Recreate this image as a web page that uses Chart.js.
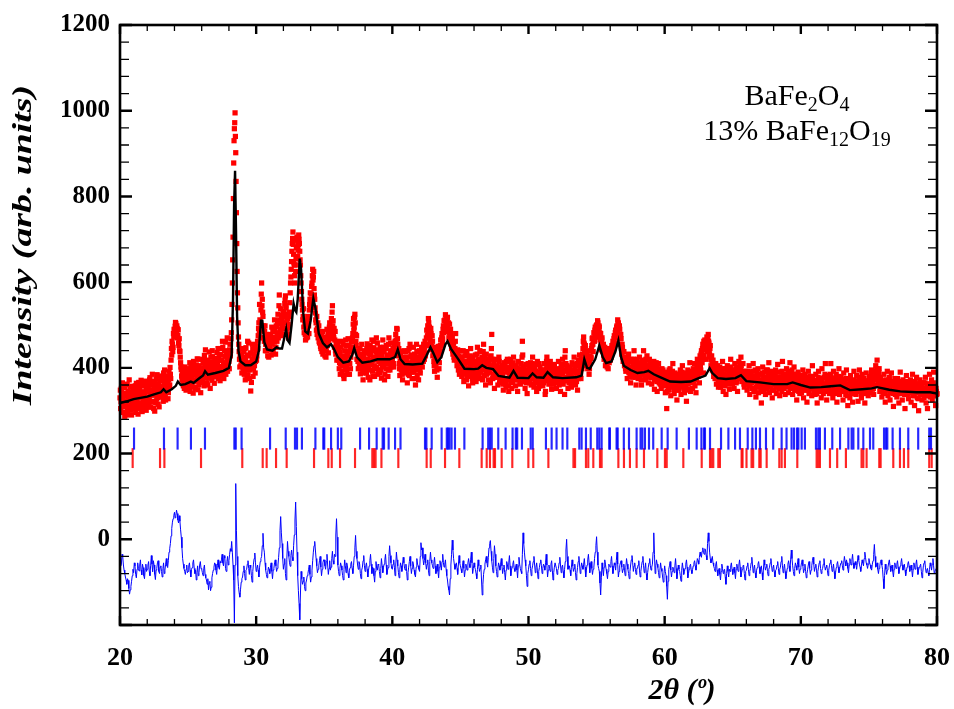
<!DOCTYPE html>
<html>
<head>
<meta charset="utf-8">
<title>BaFe2O4 Rietveld refinement</title>
<script src="https://cdn.jsdelivr.net/npm/chart.js@4.4.1/dist/chart.umd.min.js"></script>
<style>
  html, body { margin: 0; padding: 0; background: #ffffff; }
  #wrap { width: 954px; height: 709px; }
</style>
</head>
<body>
<div id="wrap"><canvas id="c" width="954" height="709"></canvas></div>
<script>
// Observed pattern: counts every 0.025 deg starting at 20 deg (2-theta), one row per degree
const angleStart = 20;
const obsStep = 0.025;
const observed = [
  330,348, 305,321, 352,296, 318,365, 296,333, 341,309, 322,354, 287,338, 360,315, 312,290, 335,362, 299,327, 346,310, 326,372, 308,343, 355,301, 317,334, 290,357, 338,312, 324,346,
  312,338, 349,305, 331,358, 296,327, 364,315, 322,349, 340,292, 305,366, 357,330, 318,351, 333,310, 371,342, 301,298, 344,361, 326,335, 359,318, 310,369, 337,324, 352,301, 319,350,
  345,328, 318,356, 362,311, 330,372, 377,340, 308,361, 349,320, 336,385, 368,347, 322,305, 355,338, 299,366, 341,318, 374,352, 327,384, 360,331, 315,363, 348,309, 381,345, 334,370,
  356,340, 332,378, 371,355, 348,322, 388,364, 340,395, 362,334, 325,369, 379,347, 353,381, 367,328, 342,372, 392,356, 360,401, 385,375, 418,445, 430,462, 455,438, 448,480, 472,490,
  488,475, 497,506, 503,492, 485,498, 492,470, 476,489, 458,452, 468,440, 438,425, 412,402, 396,381, 372,390, 401,365, 358,378, 384,352, 366,402, 395,370, 348,386, 379,360, 388,372,
  362,385, 398,350, 371,412, 345,378, 402,360, 380,395, 356,372, 391,341, 415,388, 368,404, 384,355, 352,398, 407,370, 377,421, 393,349, 420,382, 361,405, 388,366, 399,342, 374,395,
  395,372, 368,420, 412,391, 385,358, 429,405, 401,442, 376,388, 418,365, 392,415, 360,398, 405,376, 437,410, 383,352, 398,425, 414,393, 371,440, 426,381, 390,406, 408,364, 379,418,
  396,415, 422,388, 381,436, 410,402, 445,375, 392,428, 417,399, 370,445, 431,382, 403,418, 386,462, 448,398, 412,375, 395,440, 427,408, 460,385, 405,432, 421,470, 392,410, 438,422,
  415,398, 442,455, 428,440, 468,482, 512,548, 598,652, 705,795, 878,930, 958,972, 995,940, 902,835, 762,690, 625,575, 540,505, 472,455, 438,420, 402,430, 445,405, 418,432, 388,410,
  425,402, 392,418, 438,385, 410,445, 372,420, 447,395, 401,378, 430,462, 384,410, 458,428, 412,375, 395,435, 346,398, 366,412, 420,455, 444,380, 398,432, 427,405, 452,388, 415,440,
  440,418, 428,450, 462,445, 475,492, 505,480, 548,512, 470,505, 535,572, 598,545, 560,530, 520,498, 487,470, 462,485, 498,440, 455,478, 440,462, 472,445, 428,452, 458,425, 445,468,
  452,470, 478,442, 430,465, 495,455, 463,488, 441,472, 488,460, 512,485, 470,432, 448,498, 496,462, 475,508, 525,470, 482,545, 570,512, 502,488, 538,475, 490,522, 515,498, 478,532,
  505,520, 532,492, 550,558, 568,545, 540,525, 512,490, 478,515, 502,470, 495,520, 530,552, 575,598, 612,630, 648,672, 690,702, 717,688, 665,645, 640,615, 598,640, 625,655, 680,698,
  705,682, 660,675, 688,710, 700,690, 672,652, 640,615, 598,578, 560,548, 535,512, 520,538, 495,482, 510,498, 478,465, 502,490, 470,505, 488,472, 520,508, 498,480, 535,548, 560,575,
  545,558, 572,590, 598,615, 630,605, 612,625, 585,570, 560,540, 528,512, 505,488, 520,478, 492,505, 470,485, 498,462, 458,475, 482,450, 445,468, 476,438, 460,485, 432,455, 470,448,
  455,470, 428,448, 472,425, 440,465, 490,452, 462,480, 435,458, 478,495, 505,475, 468,488, 498,515, 482,530, 545,498, 510,478, 470,492, 448,465, 485,440, 432,458, 462,418, 440,455,
  445,425, 418,440, 398,412, 436,385, 410,448, 462,420, 392,408, 428,455, 405,382, 375,418, 440,395, 418,465, 452,405, 395,428, 430,385, 468,438, 412,452, 385,410, 445,398, 425,460,
  437,448, 462,470, 480,502, 515,488, 495,518, 525,505, 478,462, 452,475, 420,438, 440,415, 398,425, 432,405, 410,445, 386,420, 425,398, 455,432, 402,388, 372,428, 418,395, 440,412,
  412,390, 435,418, 388,445, 456,405, 420,378, 398,432, 442,415, 372,452, 430,395, 408,440, 465,418, 392,380, 425,462, 447,405, 380,425, 418,398, 438,470, 402,428, 458,385, 420,442,
  395,415, 432,388, 448,425, 410,395, 376,442, 428,405, 465,418, 402,448, 438,372, 385,412, 420,445, 452,398, 410,428, 430,380, 395,455, 470,412, 418,395, 440,458, 402,425, 435,405,
  418,432, 445,410, 402,448, 430,455, 462,440, 478,465, 440,492, 490,468, 455,435, 428,445, 410,398, 382,415, 428,405, 395,438, 418,385, 372,420, 405,392, 440,425, 388,402, 412,438,
  398,420, 425,392, 365,408, 440,385, 412,445, 382,425, 455,398, 402,428, 430,390, 375,412, 418,395, 448,405, 390,432, 422,375, 360,398, 410,455, 438,382, 395,415, 426,372, 405,440,
  412,395, 388,420, 430,405, 448,425, 402,432, 438,415, 455,440, 420,448, 462,428, 435,455, 470,488, 452,475, 498,480, 515,505, 478,495, 490,468, 458,492, 480,450, 442,475, 462,428,
  448,430, 415,405, 392,425, 438,410, 405,448, 430,395, 378,415, 422,440, 450,398, 412,428, 438,452, 465,440, 452,470, 480,458, 468,490, 498,482, 510,495, 485,512, 524,498, 502,515,
  495,508, 518,492, 488,505, 470,482, 502,475, 462,490, 480,455, 445,468, 470,440, 432,452, 458,425, 418,440, 445,462, 480,432, 425,418, 405,430, 442,410, 395,422, 428,385, 410,440,
  392,410, 425,398, 380,420, 412,392, 440,405, 368,385, 405,428, 388,415, 430,395, 372,438, 415,380, 395,412, 358,400, 420,385, 402,428, 445,392, 380,418, 410,375, 365,425, 398,405,
  412,395, 385,408, 430,378, 368,415, 405,432, 448,402, 392,418, 420,385, 375,440, 410,390, 438,412, 395,420, 425,372, 402,438, 455,405, 382,428, 418,395, 360,410, 432,385, 398,420,
  405,388, 372,410, 418,395, 390,425, 365,402, 428,445, 478,420, 398,375, 380,405, 412,385, 352,378, 395,418, 420,392, 378,405, 402,380, 360,398, 388,425, 415,365, 372,402, 395,378,
  368,392, 405,380, 385,362, 348,398, 412,372, 375,405, 398,362, 355,415, 390,372, 420,395, 372,358, 345,388, 402,375, 380,420, 365,398, 410,352, 388,368, 398,412, 425,385, 372,400,
  392,375, 358,390, 405,372, 380,398, 345,385, 415,395, 372,388, 398,365, 362,392, 410,378, 385,425, 462,430, 402,385, 368,402, 390,370, 352,395, 408,365, 378,392, 340,382, 395,410,
  372,390, 405,365, 385,398, 412,375, 360,385, 398,410, 425,392, 380,362, 355,385, 402,372, 368,408, 392,365, 345,390, 415,378, 375,352, 388,410, 358,385, 402,368, 380,395, 365,382,
  395,375, 358,392, 382,365, 410,390, 372,338, 345,372, 398,415, 425,395, 405,382, 388,370, 362,405, 392,378, 415,395, 375,362, 350,388, 398,372, 380,405, 362,390, 408,378, 372,395,
  385,368, 352,380, 398,365, 372,392, 415,388, 360,378, 390,365, 345,398, 405,372, 378,402, 420,385, 362,408, 395,370, 338,425, 440,392, 410,378, 370,405, 395,372, 352,398, 382,365,
  368,385, 402,392, 380,362, 355,378, 412,395, 390,365, 372,408, 425,392, 398,375, 360,388, 405,368, 385,410, 348,390, 418,375, 392,412, 430,395, 402,385, 375,420, 410,398, 420,432,
  445,462, 472,458, 455,440, 428,452, 440,418, 405,425, 432,410, 398,415, 420,402, 385,398, 412,428, 440,422, 425,445, 452,468, 470,455, 438,465, 482,470, 462,488, 495,472, 478,498,
  500,485, 488,510, 505,492, 472,498, 495,482, 465,478, 480,458, 442,465, 470,448, 438,452, 455,430, 420,438, 448,425, 405,418, 432,440, 415,402, 445,420, 398,425, 428,412, 440,422,
  418,432, 445,425, 430,452, 448,438, 462,455, 440,468, 475,452, 458,482, 488,475, 470,495, 498,485, 512,502, 505,492, 478,498, 490,470, 455,478, 468,445, 432,455, 448,425, 415,438,
  438,420, 405,415, 425,398, 392,410, 418,395, 375,402, 410,425, 432,390, 388,415, 402,380, 365,398, 420,388, 395,415, 378,402, 412,420, 440,395, 385,412, 405,378, 360,405, 398,420,
  410,392, 375,405, 398,382, 425,398, 382,412, 405,372, 360,395, 418,385, 395,415, 440,405, 388,398, 412,378, 372,420, 402,388, 428,405, 385,398, 365,382, 398,420, 410,392, 378,405,
  392,378, 362,395, 405,385, 378,402, 415,372, 350,385, 388,398, 372,412, 400,368, 345,390, 382,398, 410,375, 365,388, 395,362, 375,392, 352,380, 398,365, 370,395, 385,372, 358,382,
  375,360, 342,372, 390,368, 305,345, 362,378, 385,352, 348,395, 372,365, 398,362, 335,382, 380,370, 355,392, 410,375, 365,350, 340,372, 388,362, 352,385, 375,348, 325,378, 368,355,
  382,365, 348,372, 362,385, 395,358, 338,362, 375,390, 405,368, 355,380, 370,352, 342,375, 388,365, 360,348, 322,370, 378,385, 395,362, 350,378, 368,392, 412,375, 345,365, 372,385,
  385,370, 352,378, 398,382, 368,395, 410,358, 375,392, 342,372, 392,405, 420,398, 380,412, 405,388, 365,418, 428,402, 395,432, 440,425, 412,445, 455,420, 388,462, 430,448, 465,442,
  448,462, 420,455, 472,438, 445,470, 478,462, 458,440, 430,445, 452,425, 405,418, 428,402, 395,410, 418,392, 380,398, 402,388, 375,395, 410,382, 362,378, 392,405, 385,370, 355,390,
  378,392, 402,372, 355,380, 390,362, 368,395, 415,385, 345,372, 385,398, 372,358, 398,378, 338,368, 380,395, 405,382, 362,375, 392,365, 350,385, 375,402, 420,378, 365,390, 388,362,
  370,385, 395,372, 352,388, 410,378, 382,398, 365,380, 398,368, 345,375, 388,402, 415,392, 375,410, 402,395, 425,405, 390,378, 368,392, 410,375, 385,362, 355,380, 392,368, 372,390,
  380,362, 348,375, 392,370, 365,385, 405,358, 338,362, 372,385, 390,365, 352,372, 378,392, 410,368, 345,380, 368,352, 395,372, 332,355, 375,388, 360,378, 398,365, 342,385, 370,358,
  355,372, 385,348, 318,362, 372,388, 402,365, 345,378, 365,352, 390,375, 338,362, 378,395, 350,372, 395,360, 368,385, 412,355, 342,368, 375,392, 358,372, 388,348, 330,362, 370,382,
  382,362, 348,370, 365,385, 395,358, 340,368, 372,390, 408,375, 355,365, 378,352, 335,378, 362,375, 390,360, 345,392, 415,380, 370,362, 352,375, 385,360, 338,382, 372,355, 398,375,
  360,375, 388,365, 342,360, 375,392, 412,378, 352,365, 370,382, 395,358, 338,372, 365,385, 402,372, 348,365, 380,348, 355,370, 325,352, 372,385, 390,362, 345,375, 368,340, 352,372,
  378,360, 342,355, 365,382, 395,372, 330,350, 358,375, 385,362, 348,368, 372,348, 320,352, 362,378, 392,365, 340,358, 368,380, 352,365, 378,352, 335,372, 405,380, 358,365, 345,370,
  370,352, 338,362, 385,368, 352,340, 318,355, 365,378, 392,368, 345,360, 375,348, 358,375, 330,365, 398,372, 362,350, 340,362, 378,345, 352,385, 410,378, 345,360, 325,352, 368,380,
  355,372, 382,358, 340,365, 372,385, 410,375, 348,362, 365,345, 330,372, 392,368, 358,340, 375,362, 342,378, 385,355, 320,348, 368,372, 352,380, 398,362, 338,352, 362,375, 378,350,
  345,358, 372,350, 325,362, 388,345, 352,372, 365,348, 338,375, 395,362, 348,335, 312,355, 375,348, 358,362, 330,372, 382,358, 345,365, 368,340, 320,358, 355,372, 392,362, 340,355,
  365,350, 338,362, 382,355, 350,368, 322,345, 372,358, 395,362, 345,378, 358,340, 330,358, 385,370, 362,348, 340,362, 375,352, 318,345, 352,370, 388,362, 345,355, 368,350, 335,362,
  358,368, 380,355, 342,362, 368,385, 395,372, 350,365, 372,352, 338,378, 390,372, 360,392, 405,380, 375,398, 418,395, 385,372, 362,388, 398,370, 345,365, 378,352, 355,370, 332,358,
  368,352, 342,365, 385,360, 355,340, 320,348, 372,362, 348,370, 392,355, 335,352, 362,372, 378,350, 325,345, 355,368, 388,362, 342,358, 365,340, 310,348, 352,365, 375,355, 338,368,
  360,345, 332,358, 375,352, 348,362, 318,340, 368,355, 390,362, 340,348, 355,342, 325,358, 372,355, 345,365, 362,338, 305,345, 350,368, 382,352, 338,345, 358,340, 328,352, 365,342,
  342,355, 372,348, 320,345, 358,368, 385,352, 335,342, 350,335, 312,358, 368,350, 345,362, 378,348, 330,342, 355,328, 300,350, 348,362, 372,345, 338,355, 362,340, 325,348, 352,365,
  365,348, 330,342, 352,365, 378,352, 318,338, 345,362, 305,335, 362,348, 340,358, 385,345, 332,362, 355,340, 372,350, 325,345, 348,365, 390,355, 335,348, 358,335, 312,352, 345,338,
  340
];

// Difference curve (drawn with its own offset) every 0.05 deg from 20 deg, one row per degree
const diffStep = 0.05;
const difference = [
  -45,-62, -58,-35, -40,-60, -72,-80, -88,-95, -105,-92, -96,-115, -128,-118, -110,-98, -85,-70,
  -78,-55, -62,-82, -90,-70, -55,-68, -74,-60, -48,-72, -83,-58, -66,-85, -92,-70, -58,-75,
  -70,-60, -52,-75, -85,-62, -38,-58, -76,-50, -60,-82, -94,-72, -68,-55, -50,-75, -80,-65,
  -62,-75, -88,-68, -55,-80, -72,-58, -45,-62, -66,-50, -30,-22, -10,8, 25,40, 48,55,
  63,50, 55,68, 60,45, 38,55, 42,22, 5,-20, -45,-58, -68,-75, -82,-70, -60,-78,
  -75,-62, -55,-72, -88,-70, -66,-55, -48,-68, -80,-72, -95,-78, -62,-85, -78,-60, -52,-68,
  -70,-78, -85,-68, -60,-82, -90,-95, -105,-92, -118,-102, -98,-120, -112,-90, -80,-72, -65,-55,
  -58,-72, -82,-62, -48,-65, -70,-52, -55,-48, -35,-55, -62,-38, -44,-68, -75,-52, -40,-60,
  -50,-35, -22,-28, -5,-30, -60,-95, -195,-60, 130,20, -40,-85, -110,-125, -135,-118, -100,-92,
  -88,-75, -62,-80, -95,-72, -70,-58, -50,-68, -82,-60, -66,-85, -100,-75, -58,-45, -32,-55,
  -75,-68, -60,-72, -88,-65, -52,-45, -40,-15, 14,-20, -30,-55, -72,-82, -90,-78, -65,-70,
  -80,-65, -55,-75, -92,-72, -68,-55, -48,-62, -75,-68, -60,-42, -20,20, 53,15, -10,-45,
  -70,-58, -45,-80, -95,-48, -5,-28, -40,-55, -63,-38, -25,-42, -50,-15, 10,45, 87,30,
  -30,-85, -120,-150, -188,-130, -75,-92, -105,-98, -88,-110, -120,-102, -95,-85, -80,-70, -60,-82,
  -100,-88, -72,-50, -30,-15, -5,-25, -45,-62, -78,-70, -62,-50, -40,-65, -85,-70, -55,-48,
  -48,-62, -70,-52, -35,-60, -82,-68, -50,-72, -65,-45, -28,-50, -58,-35, -40,10, 48,5,
  -60,-75, -85,-68, -55,-62, -72,-85, -95,-70, -48,-62, -78,-55, -62,-80, -90,-72, -66,-58,
  -52,-68, -80,-62, -40,-20, 9,-28, -45,-60, -70,-52, -58,-80, -92,-72, -65,-50, -38,-62,
  -75,-62, -55,-70, -88,-72, -62,-50, -35,-58, -80,-65, -68,-85, -100,-75, -52,-68, -72,-58,
  -60,-75, -90,-68, -45,-62, -78,-65, -58,-48, -35,-60, -82,-72, -66,-40, -15,-38, -55,-68,
  -70,-58, -48,-65, -85,-60, -30,-48, -62,-78, -90,-70, -55,-62, -75,-58, -42,-55, -68,-72,
  -58,-75, -95,-78, -65,-52, -40,-62, -80,-68, -52,-60, -72,-82, -88,-65, -45,-58, -62,-70,
  -75,-40, -8,-25, -20,-45, -60,-50, -35,-55, -70,-58, -48,-72, -85,-52, -30,-48, -55,-62,
  -68,-55, -42,-62, -80,-70, -58,-75, -90,-65, -50,-60, -72,-52, -35,-55, -65,-58, -48,-70,
  -85,-95, -110,-118, -130,-92, -60,-35, -2,-25, -45,-58, -70,-62, -55,-68, -82,-60, -38,-55,
  -62,-70, -78,-62, -50,-68, -88,-72, -58,-65, -72,-55, -45,-58, -66,-48, -30,-55, -80,-68,
  -55,-65, -70,-80, -92,-70, -48,-62, -75,-68, -60,-95, -130,-105, -82,-70, -58,-48, -40,-55,
  -65,-42, -20,-10, -3,-28, -50,-65, -78,-45, -15,-35, -62,-75, -88,-70, -55,-62, -72,-58,
  -45,-62, -80,-68, -60,-78, -95,-72, -52,-60, -70,-55, -38,-62, -85,-72, -65,-58, -50,-68,
  -75,-65, -58,-72, -90,-62, -42,-58, -68,-75, -80,-35, 15,-10, -30,-48, -62,-85, -110,-80,
  -70,-58, -50,-68, -85,-70, -62,-52, -40,-60, -78,-65, -55,-72, -92,-75, -66,-55, -48,-62,
  -80,-68, -58,-62, -72,-55, -35,-60, -88,-72, -60,-68, -75,-58, -50,-72, -95,-78, -65,-55,
  -55,-68, -82,-72, -68,-55, -42,-60, -78,-65, -60,-75, -90,-70, -52,-25, 0,-40, -70,-62,
  -62,-72, -85,-65, -48,-62, -75,-68, -58,-78, -95,-80, -66,-52, -40,-60, -80,-68, -55,-62,
  -70,-58, -45,-65, -88,-72, -60,-48, -35,-55, -78,-62, -52,-68, -82,-70, -65,-45, -30,-15,
  6,-30, -60,-68, -75,-102, -130,-90, -55,-70, -85,-65, -48,-58, -70,-80, -92,-75, -58,-62,
  -65,-52, -40,-62, -80,-68, -55,-60, -72,-50, -30,-58, -88,-75, -62,-55, -50,-65, -78,-70,
  -58,-72, -85,-65, -45,-58, -70,-80, -92,-75, -60,-48, -38,-55, -75,-62, -55,-70, -82,-68,
  -68,-60, -50,-72, -88,-75, -62,-52, -40,-62, -78,-68, -55,-80, -95,-78, -65,-55, -45,-62,
  -72,-65, -58,-30, 15,-35, -80,-62, -48,-58, -66,-78, -90,-72, -55,-68, -75,-88, -100,-80,
  -62,-75, -85,-110, -140,-98, -70,-62, -52,-72, -88,-75, -65,-70, -78,-62, -45,-68, -92,-75,
  -60,-70, -75,-85, -98,-72, -55,-68, -82,-75, -68,-58, -48,-65, -90,-80, -70,-62, -58,-72,
  -80,-70, -62,-55, -50,-62, -72,-58, -45,-50, -58,-42, -30,-38, -42,-28, -20,-30, -35,-22,
  -25,-38, -48,-10, 15,-5, -30,-45, -55,-48, -40,-55, -62,-68, -75,-60, -52,-72, -85,-70,
  -68,-82, -95,-75, -58,-68, -80,-72, -70,-88, -105,-80, -62,-75, -88,-70, -75,-62, -55,-70,
  -82,-72, -65,-78, -92,-70, -58,-68, -75,-60, -48,-65, -88,-78, -70,-62, -60,-80, -95,-75,
  -72,-62, -55,-70, -85,-75, -68,-55, -42,-60, -78,-68, -60,-78, -90,-72, -66,-58, -52,-65,
  -80,-70, -62,-78, -95,-72, -48,-60, -72,-65, -58,-75, -85,-70, -65,-55, -45,-62, -75,-68,
  -60,-75, -88,-72, -70,-60, -52,-68, -82,-70, -65,-52, -40,-62, -78,-68, -58,-75, -92,-80,
  -68,-58, -50,-62, -75,-48, -25,-45, -62,-75, -85,-68, -55,-62, -72,-58, -45,-65, -80,-70,
  -65,-55, -48,-62, -78,-70, -58,-75, -90,-80, -70,-60, -52,-68, -82,-72, -62,-50, -42,-58,
  -75,-65, -58,-72, -88,-75, -65,-55, -50,-68, -80,-72, -68,-58, -45,-62, -72,-65, -60,-72,
  -85,-72, -62,-55, -48,-62, -75,-68, -58,-75, -92,-78, -66,-58, -52,-65, -78,-68, -60,-55,
  -50,-62, -72,-55, -40,-52, -62,-48, -55,-68, -78,-60, -45,-52, -60,-48, -35,-55, -68,-58,
  -52,-60, -70,-55, -38,-48, -58,-65, -75,-62, -48,-55, -62,-45, -30,-42, -55,-60, -68,-58,
  -45,-55, -60,-68, -72,-58, -50,-35, -12,-40, -65,-62, -55,-70, -80,-68, -62,-52, -48,-60,
  -70,-92, -115,-85, -58,-70, -82,-72, -65,-55, -48,-62, -75,-68, -60,-75, -88,-70, -55,-62,
  -68,-58, -50,-65, -80,-70, -62,-55, -45,-60, -72,-65, -58,-72, -85,-75, -65,-58, -52,-62,
  -75,-68, -60,-72, -88,-70, -55,-62, -70,-58, -48,-65, -82,-72, -65,-62, -58,-75, -90,-78,
  -62,-55, -50,-65, -78,-72, -68,-78, -85,-70, -55,-62, -72,-58, -45,-62, -80,-75, -70,-68,
  -65
];

// Calculated profile
const calcAngles = [
  20.0, 20.5, 21.0, 21.5, 22.0, 22.5, 23.0, 23.2, 23.4, 23.8,
  24.1, 24.25, 24.45, 24.8, 25.2, 25.4, 25.8, 26.1, 26.25, 26.45,
  27.0, 27.6, 28.0, 28.2, 28.3, 28.38, 28.45, 28.52, 28.6, 28.7,
  28.85, 29.2, 29.6, 30.0, 30.2, 30.35, 30.45, 30.6, 30.8, 31.2,
  31.5, 31.7, 31.9, 32.1, 32.2, 32.3, 32.45, 32.6, 32.75, 32.85,
  32.95, 33.05, 33.2, 33.3, 33.45, 33.6, 33.8, 34.0, 34.2, 34.35,
  34.6, 34.9, 35.2, 35.5, 35.7, 36.0, 36.4, 36.8, 37.05, 37.2,
  37.4, 37.8, 38.4, 38.9, 39.3, 39.8, 40.2, 40.4, 40.6, 40.9,
  41.5, 42.2, 42.5, 42.8, 43.0, 43.3, 43.6, 43.9, 44.05, 44.3,
  44.8, 45.3, 46.0, 46.3, 46.6, 46.9, 47.4, 47.8, 48.6, 48.9,
  49.2, 50.0, 50.3, 50.6, 51.1, 51.4, 51.8, 52.5, 53.5, 53.9,
  54.1, 54.3, 54.5, 54.9, 55.2, 55.45, 55.7, 56.1, 56.4, 56.6,
  56.8, 57.0, 57.5, 58.0, 58.5, 58.8, 59.2, 59.7, 60.4, 61.2,
  61.9, 62.5, 63.0, 63.3, 63.5, 63.9, 64.5, 65.2, 65.6, 66.0,
  67.0, 68.0, 69.0, 69.4, 70.0, 70.7, 71.5, 72.2, 72.9, 73.6,
  74.5, 75.2, 75.6, 76.5, 77.3, 78.5, 79.5, 80.0
];
const calcCounts = [
  318, 322, 327, 330, 333, 338, 343, 350, 343, 350,
  358, 368, 360, 362, 368, 365, 375, 382, 392, 384,
  388, 393, 400, 430, 560, 780, 860, 720, 520, 440,
  415, 406, 406, 415, 440, 510, 510, 460, 443, 440,
  448, 445, 445, 475, 490, 465, 458, 500, 550, 535,
  530, 560, 655, 630, 530, 485, 480, 510, 562, 540,
  480, 458, 448, 455, 445, 425, 412, 415, 430, 446,
  425, 412, 415, 420, 420, 420, 425, 443, 420, 409,
  408, 410, 428, 448, 435, 413, 425, 455, 462, 445,
  422, 398, 397, 398, 406, 400, 397, 381, 377, 393,
  377, 376, 387, 378, 377, 390, 378, 376, 378, 382,
  420, 400, 398, 420, 452, 425, 411, 415, 440, 464,
  425, 405, 395, 388, 390, 393, 385, 378, 368, 367,
  368, 376, 382, 399, 388, 376, 374, 376, 383, 369,
  366, 362, 362, 366, 360, 354, 355, 357, 359, 348,
  350, 352, 355, 349, 345, 343, 343, 340
];

// Bragg reflection positions (deg) for the two phases
const braggBaFe2O4 = [
  21.03, 23.23, 24.23, 25.21, 26.24, 28.4, 28.5, 28.93, 31.02, 32.17,
  32.85, 33.0, 33.36, 34.35, 34.93, 35.0, 35.5, 36.0, 36.25, 37.63,
  38.29, 38.85, 39.29, 39.39, 39.73, 40.2, 40.6, 42.4, 42.5, 42.89,
  43.62, 44.0, 44.1, 44.2, 44.35, 44.6, 45.29, 46.63, 47.04, 47.17,
  47.3, 47.78, 48.32, 48.83, 49.07, 49.17, 49.52, 50.16, 50.31, 51.28,
  51.7, 52.06, 52.5, 52.85, 53.73, 53.9, 54.22, 54.57, 55.05, 55.2,
  55.37, 55.93, 55.98, 56.47, 56.55, 57.0, 57.38, 57.94, 58.23, 58.36,
  58.55, 58.85, 59.16, 59.78, 60.22, 60.88, 61.78, 62.35, 62.7, 62.89,
  62.96, 63.33, 64.14, 64.68, 65.17, 65.53, 66.1, 66.44, 66.7, 67.0,
  67.44, 67.97, 68.59, 68.95, 69.32, 69.5, 69.72, 69.82, 70.06, 70.3,
  71.11, 71.28, 71.4, 71.77, 72.31, 72.88, 73.49, 73.73, 73.86, 74.22,
  74.59, 75.08, 75.32, 76.11, 76.25, 76.35, 76.74, 77.28, 77.89, 78.62,
  79.43, 79.56
];
const braggBaFe12O19 = [
  20.93, 22.94, 23.26, 25.95, 28.98, 30.48, 30.77, 31.46, 32.24, 34.25,
  35.3, 35.55, 36.16, 37.26, 38.53, 38.65, 38.77, 39.2, 40.44, 42.52,
  42.82, 43.87, 44.92, 46.56, 46.93, 47.17, 47.44, 47.54, 48.03, 48.81,
  49.99, 50.35, 51.46, 53.3, 53.42, 54.22, 54.39, 54.76, 55.25, 55.37,
  56.6, 57.01, 57.45, 57.94, 58.48, 59.46, 60.02, 60.15, 61.37, 62.72,
  63.33, 63.45, 63.57, 63.94, 64.06, 65.65, 65.72, 66.01, 66.38, 66.5,
  66.95, 67.05, 67.49, 68.42, 68.59, 68.83, 69.74, 71.16, 71.28, 71.4,
  72.14, 72.67, 73.31, 74.46, 74.59, 74.83, 75.76, 75.86, 76.79, 77.28,
  77.57, 77.89, 79.43, 79.61
];

// Axis tick positions
const xTickValues = [20, 22, 24, 26, 28, 30, 32, 34, 36, 38, 40, 42, 44, 46, 48, 50,
  52, 54, 56, 58, 60, 62, 64, 66, 68, 70, 72, 74, 76, 78, 80];
const yTickValues = [-200, -160, -120, -80, -40, 0, 40, 80, 120, 160, 200, 240, 280,
  320, 360, 400, 440, 480, 520, 560, 600, 640, 680, 720, 760, 800, 840, 880, 920,
  960, 1000, 1040, 1080, 1120, 1160, 1200];

const SERIF = '"Liberation Serif", "Times New Roman", serif';

// Draw a formula with subscripted digits, centred on cx
function drawFormula(ctx, parts, cx, baseline, size) {
  const subSize = Math.round(size * 0.68);
  let total = 0;
  for (const [txt, sub] of parts) {
    ctx.font = `${sub ? subSize : size}px ${SERIF}`;
    total += ctx.measureText(txt).width;
  }
  let xx = cx - total / 2;
  for (const [txt, sub] of parts) {
    ctx.font = `${sub ? subSize : size}px ${SERIF}`;
    ctx.fillText(txt, xx, baseline + (sub ? size * 0.2 : 0));
    xx += ctx.measureText(txt).width;
  }
}

// Closed frame with inward tick marks on all four sides, plus titles and the phase note
const framePlugin = {
  id: 'framePlugin',
  afterDatasetsDraw(chart) {
    const { ctx, chartArea: a, scales: { x, y } } = chart;
    ctx.save();
    ctx.strokeStyle = '#000';
    for (const t of x.ticks) {
      const px = x.getPixelForValue(t.value);
      const major = t.value % 10 === 0;
      const len = major ? 9 : 6;
      ctx.lineWidth = major ? 2.4 : 1.3;
      ctx.beginPath();
      ctx.moveTo(px, a.bottom); ctx.lineTo(px, a.bottom - len);
      ctx.moveTo(px, a.top); ctx.lineTo(px, a.top + len);
      ctx.stroke();
    }
    for (const t of y.ticks) {
      const py = y.getPixelForValue(t.value);
      const major = t.value % 200 === 0;
      const len = major ? 12 : 9;
      ctx.lineWidth = major ? 2.4 : 1.3;
      ctx.beginPath();
      ctx.moveTo(a.left, py); ctx.lineTo(a.left + len, py);
      ctx.moveTo(a.right, py); ctx.lineTo(a.right - len, py);
      ctx.stroke();
    }
    ctx.lineWidth = 2.6;
    ctx.strokeRect(a.left, a.top, a.right - a.left, a.bottom - a.top);
    ctx.restore();
  },
  afterDraw(chart) {
    const { ctx } = chart;
    ctx.save();
    ctx.fillStyle = '#000';
    ctx.textBaseline = 'middle';
    ctx.textAlign = 'center';
    // y-axis title (lettering drawn tall, as in the printed figure)
    ctx.save();
    ctx.translate(24, 245);
    ctx.rotate(-Math.PI / 2);
    ctx.scale(1.4, 1);
    ctx.font = `italic bold 27px ${SERIF}`;
    ctx.fillText('Intensity (arb. units)', 0, 0);
    ctx.restore();
    // x-axis title
    ctx.font = `italic bold 30px ${SERIF}`;
    ctx.fillText('2\u03B8 (\u00BA)', 682, 691);
    // phase composition note
    ctx.textAlign = 'left';
    ctx.textBaseline = 'alphabetic';
    drawFormula(ctx, [['BaFe', false], ['2', true], ['O', false], ['4', true]], 797, 105, 30);
    drawFormula(ctx, [['13% BaFe', false], ['12', true], ['O', false], ['19', true]], 797, 140, 30);
    ctx.restore();
  }
};

const observedPoints = observed.map((v, i) => ({ x: angleStart + i * obsStep, y: v }));
const differencePoints = difference.map((v, i) => ({ x: angleStart + i * diffStep, y: v }));
const calcPoints = calcAngles.map((a, i) => ({ x: a, y: calcCounts[i] }));

new Chart(document.getElementById('c'), {
  type: 'scatter',
  data: {
    datasets: [
      {
        type: 'line', label: 'Calculated', data: calcPoints,
        borderColor: '#000000', borderWidth: 2.4, pointRadius: 0, tension: 0, order: 0
      },
      {
        type: 'scatter', label: 'Observed', data: observedPoints,
        pointStyle: 'rect', pointRadius: 3.7, backgroundColor: '#ff0000',
        borderWidth: 0, order: 1, clip: 4
      },
      {
        type: 'line', label: 'Difference', data: differencePoints,
        borderColor: '#0000ff', borderWidth: 1, pointRadius: 0, tension: 0, order: 2, clip: 3
      },
      {
        type: 'bar', label: 'BaFe2O4', data: braggBaFe2O4.map(a => ({ x: a, y: [210, 260] })),
        backgroundColor: 'rgba(0,0,255,0.85)', borderWidth: 0, barThickness: 1.5,
        grouped: false, order: 3
      },
      {
        type: 'bar', label: 'BaFe12O19', data: braggBaFe12O19.map(a => ({ x: a, y: [167, 212] })),
        backgroundColor: 'rgba(255,0,0,0.85)', borderWidth: 0, barThickness: 1.5,
        grouped: false, order: 3
      }
    ]
  },
  options: {
    responsive: false,
    animation: false,
    devicePixelRatio: 1,
    events: [],
    layout: { padding: { left: 0, top: 22, right: 17, bottom: 0 } },
    plugins: { legend: { display: false }, tooltip: { enabled: false } },
    scales: {
      x: {
        type: 'linear', min: 20, max: 80, offset: false,
        grid: { display: false, drawTicks: false },
        border: { display: false },
        afterBuildTicks: s => { s.ticks = xTickValues.map(v => ({ value: v })); },
        afterFit: s => { s.height = 84; s.paddingLeft = 0; s.paddingRight = 0; },
        ticks: {
          autoSkip: false, maxRotation: 0, minRotation: 0, padding: 18, color: '#000',
          font: { family: SERIF, size: 26, weight: 'bold' },
          callback: v => (v % 10 === 0 ? String(v) : '')
        }
      },
      y: {
        type: 'linear', min: -200, max: 1200,
        grid: { display: false, drawTicks: false },
        border: { display: false },
        afterBuildTicks: s => { s.ticks = yTickValues.map(v => ({ value: v })); },
        afterFit: s => { s.width = 120; },
        ticks: {
          autoSkip: false, padding: 10, color: '#000',
          font: { family: SERIF, size: 25, weight: 'bold' },
          callback: v => (v >= 0 && v % 200 === 0 ? String(v) : '')
        }
      }
    }
  },
  plugins: [framePlugin]
});
</script>
</body>
</html>
